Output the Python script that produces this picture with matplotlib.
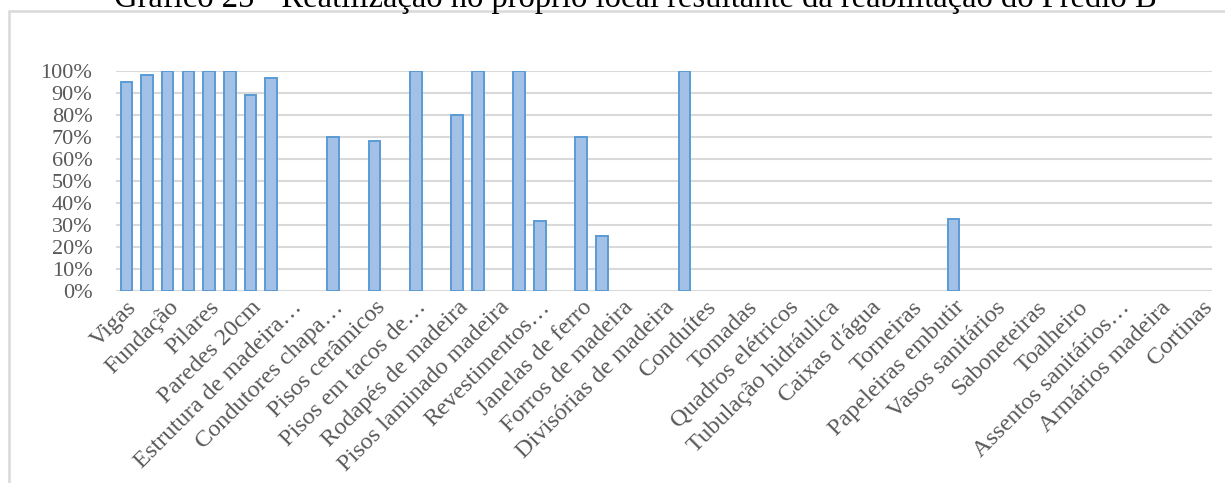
import matplotlib
matplotlib.use("Agg")
import matplotlib.pyplot as plt
from matplotlib.patches import Rectangle
from matplotlib.ticker import PercentFormatter

# Share of each item reused on site (fraction of 1); 53 items, every other one labelled
values = [
    0.95, 0.98, 1.00, 1.00, 1.00, 1.00, 0.89, 0.97, 0.00, 0.00,
    0.70, 0.00, 0.68, 0.00, 1.00, 0.00, 0.80, 1.00, 0.00, 1.00,
    0.32, 0.00, 0.70, 0.25, 0.00, 0.00, 0.00, 1.00, 0.00, 0.00,
    0.00, 0.00, 0.00, 0.00, 0.00, 0.00, 0.00, 0.00, 0.00, 0.00,
    0.33, 0.00, 0.00, 0.00, 0.00, 0.00, 0.00, 0.00, 0.00, 0.00,
    0.00, 0.00, 0.00,
]

# Category labels shown on the axis (items 0, 2, 4, ... 52)
shown_labels = [
    "Vigas", "Fundação", "Pilares", "Paredes 20cm", "Estrutura de madeira…",
    "Condutores chapa…", "Pisos cerâmicos", "Pisos em tacos de…",
    "Rodapés de madeira", "Pisos laminado madeira", "Revestimentos…",
    "Janelas de ferro", "Forros de madeira", "Divisórias de madeira",
    "Conduítes", "Tomadas", "Quadros elétricos", "Tubulação hidráulica",
    "Caixas d'água", "Torneiras", "Papeleiras embutir", "Vasos sanitários",
    "Saboneteiras", "Toalheiro", "Assentos sanitários…", "Armários madeira",
    "Cortinas",
]

y_ticks = [0.0, 0.1, 0.2, 0.3, 0.4, 0.5, 0.6, 0.7, 0.8, 0.9, 1.0]

title = "Gráfico 25 - Reatilização no próprio local resultante da reabilitação do Prédio B"

W, H = 1225, 483
fig = plt.figure(figsize=(W / 100, H / 100), dpi=100)
serif = ["Liberation Serif", "DejaVu Serif"]
grey = "#595959"

ax = fig.add_axes([116 / W, 1 - 291.3 / H, (1212 - 116) / W, (291.3 - 71) / H])
x = list(range(len(values)))
# zero-valued items get no outline so they stay invisible
edges = ["#5b9bd5" if v > 0 else "none" for v in values]
ax.bar(x, values, width=0.56, color="#a3c1e7", edgecolor=edges,
       linewidth=1.4, zorder=3)

ax.set_xlim(-0.5, len(values) - 0.5)
ax.set_ylim(0, 1)
ax.set_yticks(y_ticks)
ax.yaxis.set_major_formatter(PercentFormatter(1.0, decimals=0))
ax.grid(axis="y", color="#d9d9d9", linewidth=1.5, zorder=0)
ax.set_axisbelow(True)
for s in ax.spines.values():
    s.set_visible(False)
ax.tick_params(axis="both", length=0, colors=grey)
ax.tick_params(axis="y", pad=17, labelsize=16)
ax.tick_params(axis="x", pad=4, labelsize=17.5)

ax.set_xticks(x[::2])
ax.set_xticklabels(shown_labels, rotation=45, ha="right",
                   rotation_mode="anchor")
for lab in ax.get_xticklabels() + ax.get_yticklabels():
    lab.set_family(serif)
    lab.set_color(grey)

# Chart frame
fig.patches.append(Rectangle((8.5 / W, -0.05), 1.2, 1.05 - 11.5 / H,
                             transform=fig.transFigure, fill=False,
                             edgecolor="#d9d9d9", linewidth=1.8))

fig.text(635 / W, 1 - 7.5 / H, title, ha="center", va="baseline",
         fontsize=23.5, family=serif, color="black")

fig.savefig("out.png", dpi=100)
